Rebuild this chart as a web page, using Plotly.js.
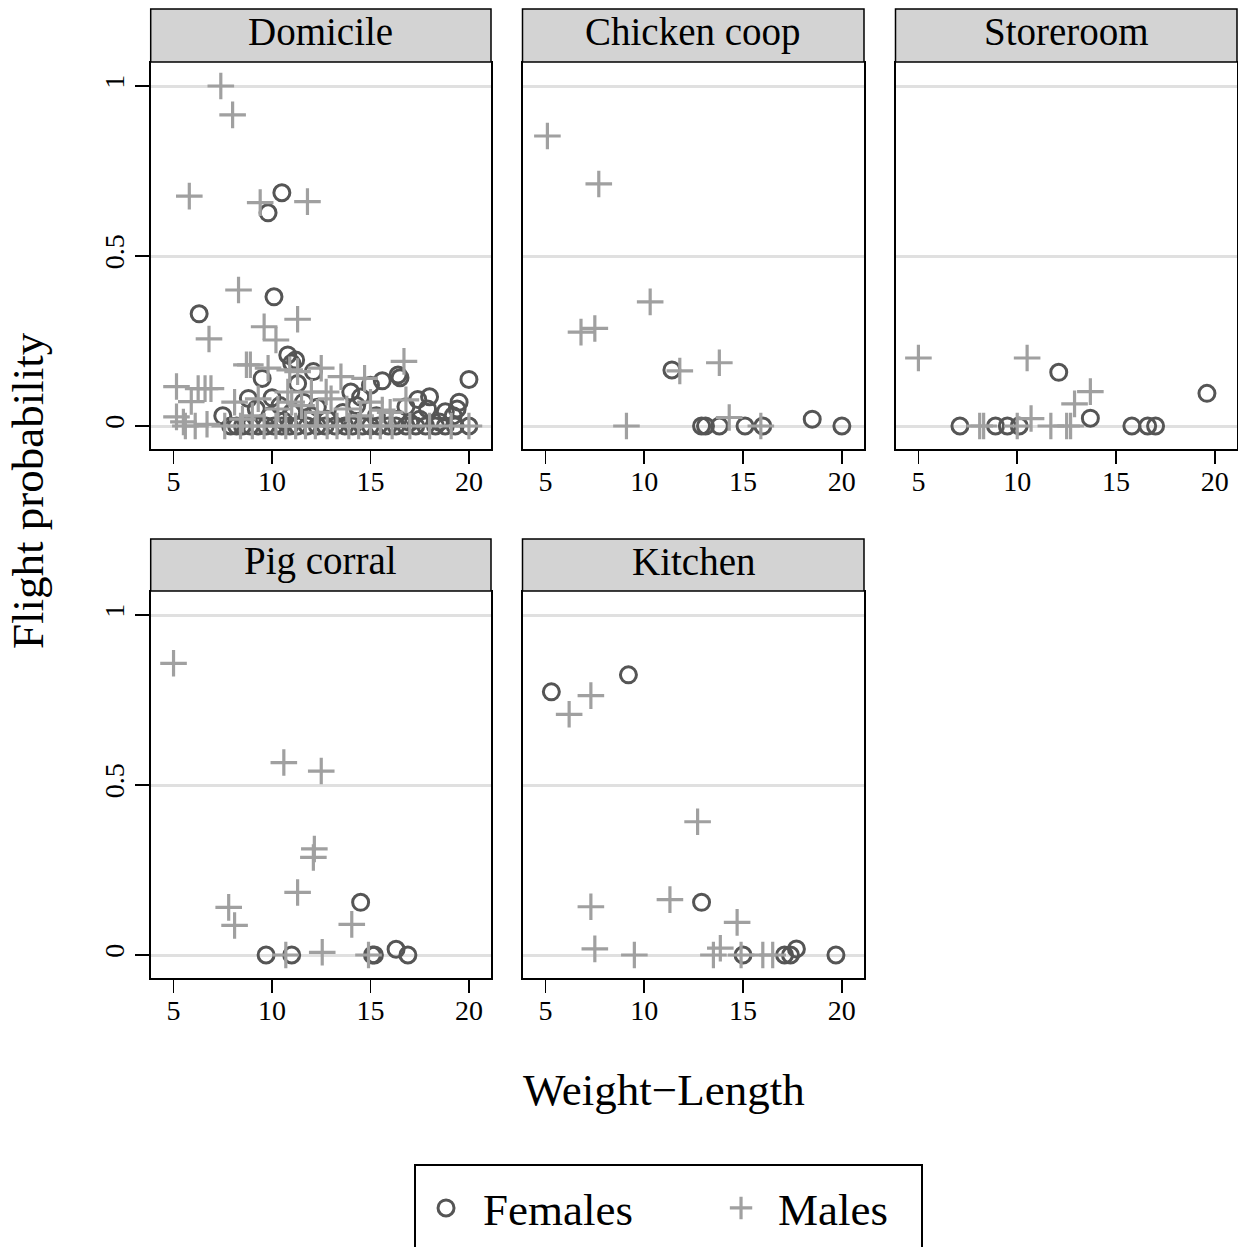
<!DOCTYPE html>
<html>
<head>
<meta charset="utf-8">
<script src="https://cdn.plot.ly/plotly-3.0.1.min.js"></script>
<style>html,body{margin:0;padding:0;background:#fff;}#chart{width:1238px;height:1247px;}</style>
</head>
<body>
<div id="chart"></div>
<script>
// ---------- data ----------
const panelNames = ["Domicile", "Chicken coop", "Storeroom", "Pig corral", "Kitchen"];
const xTicks = [5, 10, 15, 20];
const yTicks = [0, 0.5, 1];
const yTickText = ["0", "0.5", "1"];

const domFemX = [10.5,9.8,10.1,6.3,10.8,11.2,11.0,12.1,9.5,11.3,16.4,16.5,15.6,20.0,15.0,14.0,14.5,18.0,17.4,19.5,19.4,18.8,17.9,16.8,8.8,10.0,7.5,9.2,10.4,11.6,12.3,14.3,13.6,9.9,11.0,12.0,15.3,16.4,17.5,18.5,19.2,17.0,12.8,10.6,
  7.9,8.2,8.5,8.9,9.3,9.7,10.1,10.5,10.9,11.3,11.8,12.3,12.7,13.2,13.7,14.1,14.6,15.0,15.4,15.9,16.3,16.8,17.3,17.8,18.3,18.8,19.3,20.0];
const domFemY = [0.686,0.627,0.38,0.33,0.209,0.194,0.185,0.16,0.14,0.125,0.15,0.142,0.133,0.137,0.12,0.1,0.085,0.086,0.078,0.07,0.05,0.042,0.05,0.057,0.081,0.083,0.03,0.05,0.06,0.07,0.055,0.06,0.04,0.03,0.04,0.03,0.03,0.02,0.02,0.012,0.03,0.01,0.02,0.015,
  0,0,0,0,0,0,0,0,0,0,0,0,0,0,0,0,0,0,0,0,0,0,0,0,0,0,0,0];
const domMaleX = [7.4,8.0,5.8,9.4,11.8,8.3,11.3,9.6,6.8,10.2,8.7,8.9,9.8,11.3,12.5,10.9,5.15,6.25,6.6,6.9,5.9,8.1,5.15,5.5,6.7,16.7,13.5,14.7,12.75,16.8,15.6,12.0,11.5,10.3,9.0,13.0,13.8,14.5,15.0,16.0,10.8,11.0,12.3,9.3,8.5,
  5.6,6.1,7.6,8.4,9.0,9.6,10.2,10.7,11.2,11.7,12.2,12.8,13.3,13.9,14.4,15.0,15.5,16.1,17.0,18.0,19.1,20.0];
const domMaleY = [1.0,0.915,0.676,0.657,0.66,0.4,0.314,0.292,0.256,0.253,0.18,0.18,0.17,0.16,0.17,0.165,0.116,0.11,0.11,0.11,0.072,0.07,0.027,0.012,0.005,0.19,0.145,0.14,0.1,0.077,0.047,0.1,0.06,0.05,0.03,0.08,0.05,0.03,0.07,0.04,0.1,0.07,0.04,0.08,0.02,
  0,0,0,0,0,0,0,0,0,0,0,0,0,0,0,0,0,0,0,0,0,0];

const coopFemX = [11.4,12.9,13.1,13.8,15.1,16.0,18.5,20.0];
const coopFemY = [0.165,0,0,0,0,0,0.02,0];
const coopMaleX = [5.1,7.7,10.3,6.8,7.5,11.8,13.8,9.1,14.3,15.9];
const coopMaleY = [0.853,0.712,0.365,0.276,0.287,0.162,0.186,0,0.025,0];

const storeFemX = [12.1,19.6,13.7,7.1,8.9,9.5,10.1,15.8,16.6,17.0];
const storeFemY = [0.158,0.096,0.023,0,0,0,0,0,0,0];
const storeMaleX = [5.0,10.5,13.7,12.9,10.7,8.1,8.3,10.0,11.7,12.5,12.7];
const storeMaleY = [0.2,0.2,0.101,0.065,0.022,0,0,0,0,0,0];

const pigFemX = [14.5,9.7,11.0,15.1,15.2,16.3,16.9];
const pigFemY = [0.155,0,0,0,0,0.017,0];
const pigMaleX = [5.0,10.6,12.5,12.15,12.1,11.3,7.8,8.1,14.05,12.55,10.7,14.9];
const pigMaleY = [0.858,0.566,0.541,0.312,0.287,0.184,0.14,0.087,0.09,0.008,0,0];

const kitFemX = [5.3,9.2,12.9,15.0,17.1,17.4,17.7,19.7];
const kitFemY = [0.774,0.824,0.155,0,0,0,0.018,0];
const kitMaleX = [7.3,6.2,12.7,11.3,7.3,14.7,7.5,9.5,13.5,13.85,16.0,16.5,14.9];
const kitMaleY = [0.763,0.708,0.392,0.163,0.142,0.096,0.018,0,0,0.02,0,0,0];

const femX = [domFemX, coopFemX, storeFemX, pigFemX, kitFemX];
const femY = [domFemY, coopFemY, storeFemY, pigFemY, kitFemY];
const maleX = [domMaleX, coopMaleX, storeMaleX, pigMaleX, kitMaleX];
const maleY = [domMaleY, coopMaleY, storeMaleY, pigMaleY, kitMaleY];

// ---------- layout geometry ----------
const W = 1238, H = 1247;
const FONT = "Liberation Serif, Times New Roman, serif";
const colsPx = [[150.7, 491], [522.5, 864], [895.5, 1237]];
const rowsPx = [[62, 449], [591, 978]];      // plot areas (top,bottom)
const stripPx = [[9, 62], [539, 591]];
const pos = [[0,0],[0,1],[0,2],[1,0],[1,1]];
const FEM_COL = "#555555", MALE_COL = "#a0a0a0";

const traces = [];
const layout = {
  width: W, height: H,
  margin: {l:0, r:0, t:0, b:0},
  paper_bgcolor: "#fff", plot_bgcolor: "#fff",
  showlegend: true,
  font: {family: FONT, color: "#000"},
  shapes: [], annotations: [],
  legend: {
    orientation: "h", x: 0.3304, xanchor: "left", y: 0.06, yanchor: "top",
    font: {family: FONT, size: 45, color: "#000"},
    bgcolor: "rgba(0,0,0,0)", borderwidth: 0,
    itemwidth: 64,
    entrywidth: 216, entrywidthmode: "pixels"
  }
};

for (let i = 0; i < 5; i++) {
  const [r, c] = pos[i];
  const sfx = i === 0 ? "" : String(i + 1);
  const xa = "x" + sfx, ya = "y" + sfx;
  traces.push({
    type: "scatter", mode: "markers", x: femX[i], y: femY[i], xaxis: xa, yaxis: ya,
    name: "Females", legendgroup: "f", showlegend: i === 0,
    marker: {symbol: "circle-open", size: 16, color: FEM_COL, line: {width: 3, color: FEM_COL}},
    hoverinfo: "skip"
  });
  traces.push({
    type: "scatter", mode: "markers", x: maleX[i], y: maleY[i], xaxis: xa, yaxis: ya,
    name: "Males", legendgroup: "m", showlegend: i === 0,
    marker: {symbol: "cross-thin-open", size: 19, color: MALE_COL, line: {width: 3.2, color: MALE_COL}},
    hoverinfo: "skip"
  });
  const hasY = (c === 0);
  layout["xaxis" + sfx] = {
    domain: [colsPx[c][0] / W, colsPx[c][1] / W], anchor: ya,
    range: [3.84, 21.12], tickvals: xTicks, ticks: "outside", ticklen: 13, tickwidth: 1.5, tickcolor: "#000",
    ticklabelstandoff: -6,
    showline: true, mirror: true, linecolor: "#000", linewidth: 1.5,
    showgrid: false, zeroline: false, tickfont: {family: FONT, size: 28, color: "#000"}, fixedrange: true
  };
  layout["yaxis" + sfx] = {
    domain: [1 - rowsPx[r][1] / H, 1 - rowsPx[r][0] / H], anchor: xa,
    range: [-0.0676, 1.0706], tickvals: yTicks, ticktext: yTickText,
    ticks: hasY ? "outside" : "", ticklen: 14, tickwidth: 1.5, tickcolor: "#000",
    showticklabels: hasY, tickangle: -90, ticklabelstandoff: 0,
    showline: true, mirror: true, linecolor: "#000", linewidth: 1.5,
    showgrid: true, gridcolor: "#e0e0e0", gridwidth: 3, zeroline: false,
    tickfont: {family: FONT, size: 28, color: "#000"}, fixedrange: true
  };
  // strip
  layout.shapes.push({
    type: "rect", xref: "paper", yref: "paper",
    x0: colsPx[c][0] / W, x1: colsPx[c][1] / W,
    y0: 1 - stripPx[r][1] / H, y1: 1 - stripPx[r][0] / H,
    fillcolor: "#d3d3d3", line: {color: "#000", width: 1.5}, layer: "above"
  });
  layout.annotations.push({
    xref: "paper", yref: "paper", showarrow: false,
    x: (colsPx[c][0] + colsPx[c][1]) / 2 / W, y: 1 - ((stripPx[r][0] + stripPx[r][1]) / 2 - 4) / H,
    xanchor: "center", yanchor: "middle", text: panelNames[i],
    font: {family: FONT, size: 39, color: "#000"}
  });
}

// axis titles
layout.annotations.push({
  xref: "paper", yref: "paper", showarrow: false, x: 28 / W, y: 1 - 491 / H,
  xanchor: "center", yanchor: "middle", textangle: -90, text: "Flight probability",
  font: {family: FONT, size: 45, color: "#000"}
});
layout.annotations.push({
  xref: "paper", yref: "paper", showarrow: false, x: 664 / W, y: 1 - 1090 / H,
  xanchor: "center", yanchor: "middle", text: "Weight\u2212Length",
  font: {family: FONT, size: 45, color: "#000"}
});
// legend frame
layout.shapes.push({
  type: "rect", xref: "paper", yref: "paper",
  x0: 415 / W, x1: 922 / W, y0: -0.02, y1: 1 - 1165 / H,
  fillcolor: "rgba(0,0,0,0)", line: {color: "#000", width: 2}
});

Plotly.newPlot("chart", traces, layout, {staticPlot: true, displayModeBar: false});
</script>
</body>
</html>
